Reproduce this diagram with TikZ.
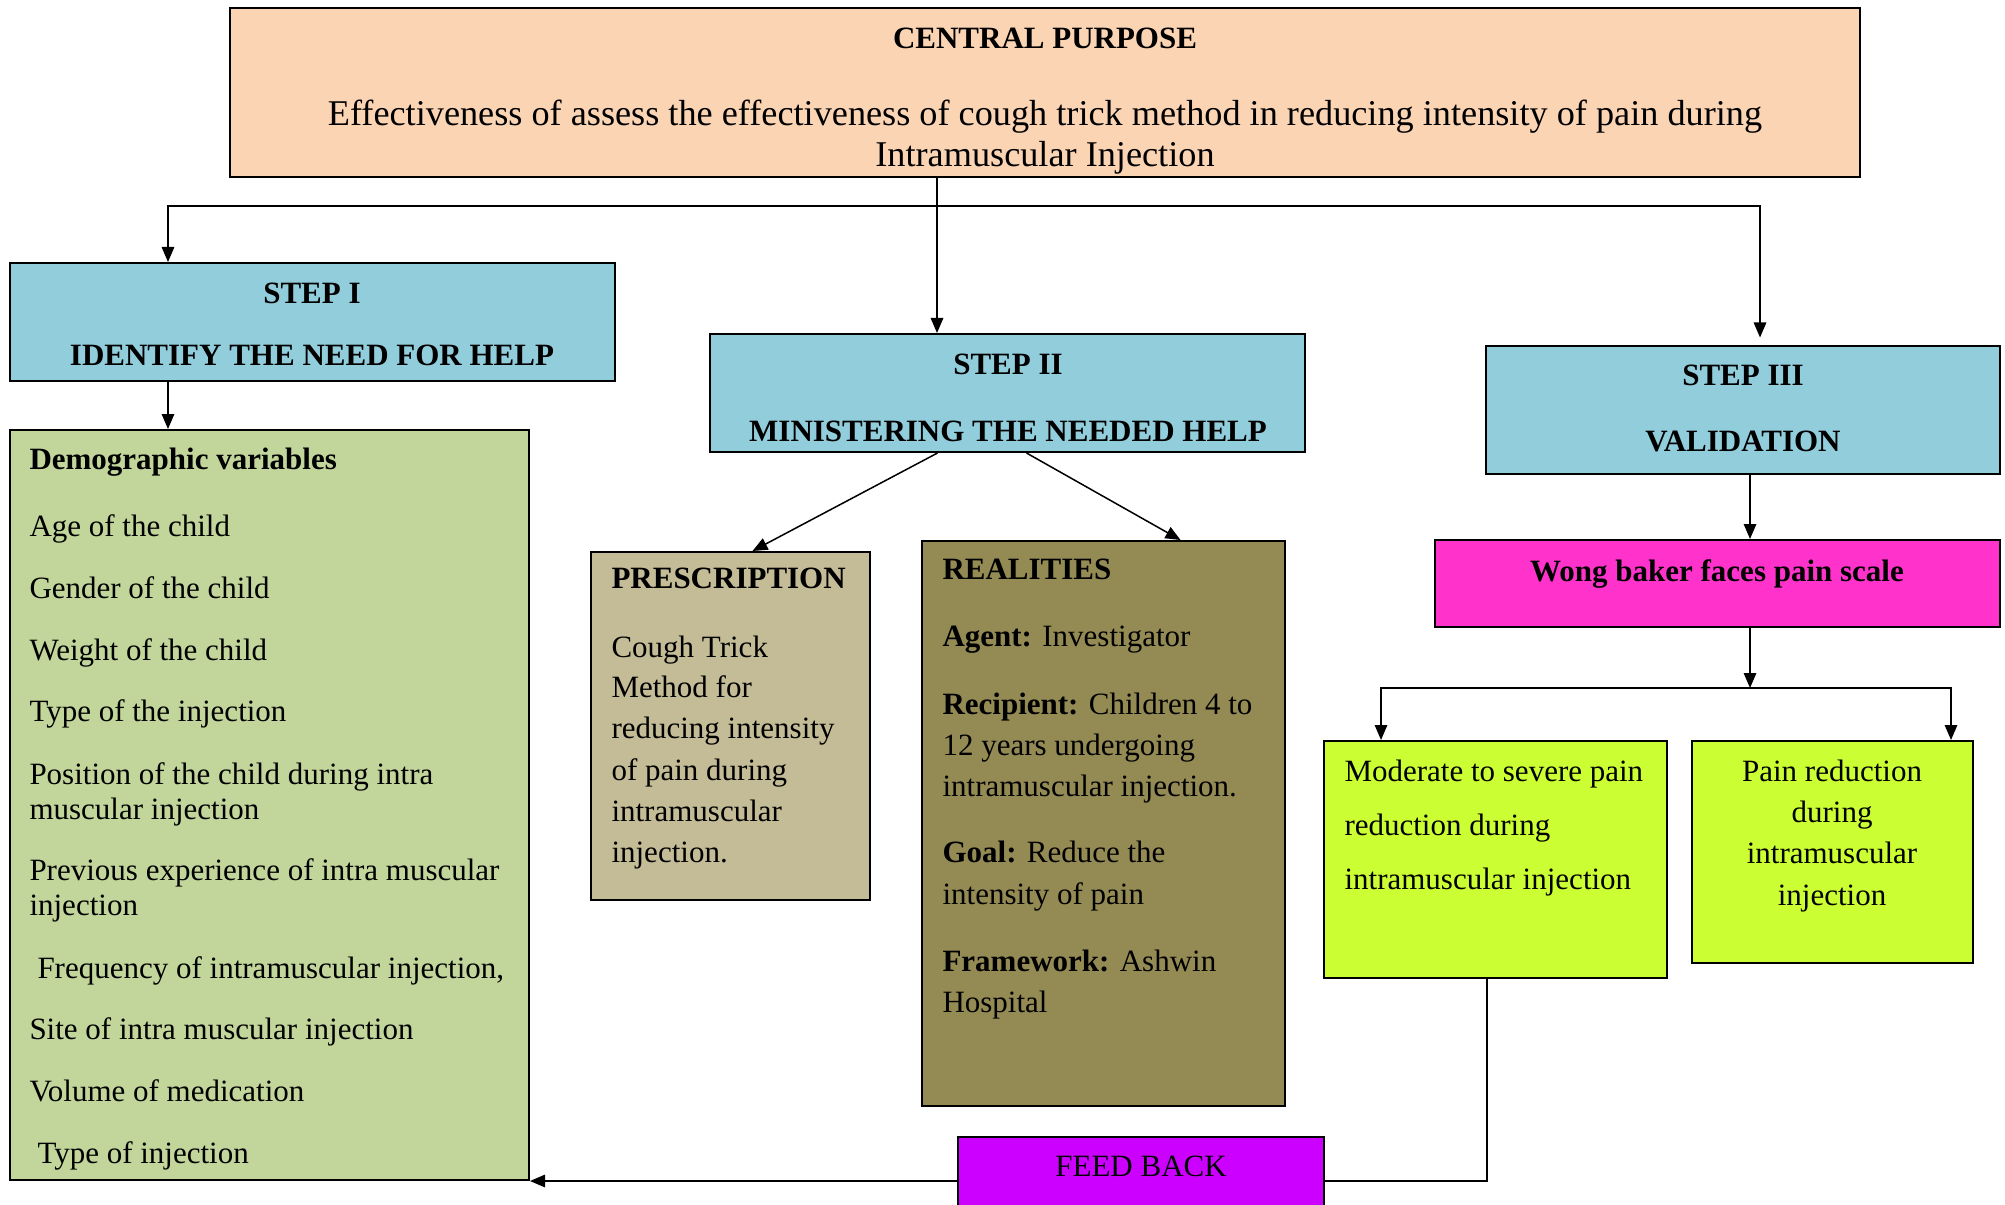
\documentclass[tikz,border=0pt]{standalone}
\usepackage{fontspec}
\setmainfont{Liberation Serif}
\usetikzlibrary{calc,fit,arrows.meta}
\definecolor{purposefill}{HTML}{FBD4B4}
\definecolor{stepfill}{HTML}{92CDDC}
\definecolor{demogfill}{HTML}{C2D69B}
\definecolor{prescfill}{HTML}{C4BC96}
\definecolor{realfill}{HTML}{948A54}
\definecolor{scalefill}{HTML}{FF33CC}
\definecolor{resultfill}{HTML}{CCFF33}
\definecolor{feedfill}{HTML}{CC00FF}
\tikzset{
  figfont/.style={font=\fontsize{12.4}{14}\selectfont},
  figbox/.style={draw, line width=0.8pt, inner sep=0pt},
  figarrow/.style={-{Triangle[length=6pt,width=5pt]}, line width=0.6pt},
  figtext/.style={figfont, inner sep=0pt, anchor=mid west, yshift=-2pt},
  figtextc/.style={figtext, anchor=mid},
  figtitle/.style={font=\fontsize{12.4}{14}\selectfont\bfseries, inner sep=0pt, anchor=mid, yshift=-2pt},
}

\begin{document}
\begin{tikzpicture}[x=0.4pt, y=-0.4pt]
  \useasboundingbox (0,0) rectangle (2005,1205);

  % Boxes
  \node[figbox, fill=purposefill, fit={(230,8) (1860,177)}] (central) {};
  \node[figbox, fill=stepfill, fit={(10,263) (615,381)}] (stepone) {};
  \node[figbox, fill=stepfill, fit={(710,334) (1305,452)}] (steptwo) {};
  \node[figbox, fill=stepfill, fit={(1486,346) (2000,474)}] (stepthree) {};
  \node[figbox, fill=demogfill, fit={(10,430) (529,1180)}] (demog) {};
  \node[figbox, fill=prescfill, fit={(591,552) (870,900)}] (presc) {};
  \node[figbox, fill=realfill, fit={(922,541) (1285,1106)}] (real) {};
  \node[figbox, fill=scalefill, fit={(1435,540) (2000,627)}] (wong) {};
  \node[figbox, fill=resultfill, fit={(1324,741) (1667,978)}] (moderate) {};
  \node[figbox, fill=resultfill, fit={(1692,741) (1973,963)}] (painred) {};
  \node[figbox, fill=feedfill, fit={(958,1137) (1324,1225)}] (feedback) {};

  % Central purpose
  \node[figtitle] (cpTitle) at (1045,38) {CENTRAL PURPOSE};
  \node[font=\fontsize{14.5}{16.4}\selectfont, align=center, inner sep=0pt, yshift=-1.5pt] (cpText) at (1045,133)
    {Effectiveness of assess the effectiveness of cough trick method in reducing intensity of pain during\\Intramuscular Injection};

  % Steps
  \node[figtitle] (s1a) at (312,293) {STEP I};
  \node[figtitle] (s1b) at (312,355) {IDENTIFY THE NEED FOR HELP};
  \node[figtitle] (s2a) at (1008,364) {STEP II};
  \node[figtitle] (s2b) at (1008,431) {MINISTERING THE NEEDED HELP};
  \node[figtitle] (s3a) at (1743,375) {STEP III};
  \node[figtitle] (s3b) at (1743,441) {VALIDATION};

  % Demographic variables
  \node[figtitle, anchor=mid west] (demTitle) at (29,459) {Demographic variables};
  \foreach \x/\y/\t [count=\i] in {29/526/Age of the child, 29/588/Gender of the child,
      29/650/Weight of the child, 29/711/Type of the injection,
      29/774/Position of the child during intra, 29/809/muscular injection,
      29/870/Previous experience of intra muscular, 29/905/injection,
      37/968/{Frequency of intramuscular injection,}, 29/1029/Site of intra muscular injection,
      29/1091/Volume of medication, 37/1153/Type of injection}
    \node[figtext] (dem\i) at (\x,\y) {\t};

  % Prescription
  \node[figtitle, anchor=mid west] (prTitle) at (611,578) {PRESCRIPTION};
  \foreach \y/\t [count=\i] in {647/Cough Trick, 687/Method for, 728/reducing intensity,
      770/of pain during, 811/intramuscular, 852/injection.}
    \node[figtext] (pr\i) at (611,\y) {\t};

  % Realities
  \node[figtitle, anchor=mid west] (reTitle) at (942,569) {REALITIES};
  \foreach \y/\t [count=\i] in {636/\textbf{Agent:} Investigator, 704/\textbf{Recipient:} Children 4 to,
      745/12 years undergoing, 786/intramuscular injection., 852/\textbf{Goal:} Reduce the,
      894/intensity of pain, 961/\textbf{Framework:} Ashwin, 1002/Hospital}
    \node[figtext] (re\i) at (942,\y) {\t};

  % Validation
  \node[figtitle] (wongText) at (1717,571) {Wong baker faces pain scale};
  \foreach \y/\t [count=\i] in {771/Moderate to severe pain, 825/reduction during, 879/intramuscular injection}
    \node[figtext] (mo\i) at (1344,\y) {\t};
  \foreach \y/\t [count=\i] in {771/Pain reduction, 812/during, 853/intramuscular, 895/injection}
    \node[figtextc] (pa\i) at (1832,\y) {\t};
  \node[figtextc] (fbText) at (1141,1166) {FEED BACK};

  % Connectors
  \coordinate (bus) at (937,206);
  \coordinate (busL) at (168,206);
  \coordinate (busR) at (1760,206);
  \draw[figarrow] (central.south -| bus) -- (steptwo.north -| bus);
  \draw[figarrow] (bus) -- (busL) -- (stepone.north -| busL);
  \draw[figarrow, shorten >=3pt] (bus) -- (busR) -- (stepthree.north -| busR);
  \draw[figarrow] (stepone.south -| busL) -- (demog.north -| busL);
  \draw[figarrow] ($(steptwo.south)+(-70,0)$) -- ($(presc.north)+(22,0)$);
  \draw[figarrow] ($(steptwo.south)+(19,0)$) -- ($(real.north)+(77,0)$);

  \coordinate (fork) at (1750,688);
  \coordinate (forkL) at (1381,688);
  \coordinate (forkR) at (1951,688);
  \draw[figarrow] (stepthree.south -| fork) -- (wong.north -| fork);
  \draw[figarrow] (wong.south -| fork) -- (fork);
  \draw[figarrow] (fork) -- (forkL) -- (moderate.north -| forkL);
  \draw[figarrow] (fork) -- (forkR) -- (painred.north -| forkR);

  % Feed back loop
  \coordinate (back) at (1487,1181);
  \draw[line width=0.6pt] (moderate.south -| back) |- (feedback.east);
  \draw[figarrow] (feedback.west) -- (demog.east |- feedback.west);
\end{tikzpicture}
\end{document}
